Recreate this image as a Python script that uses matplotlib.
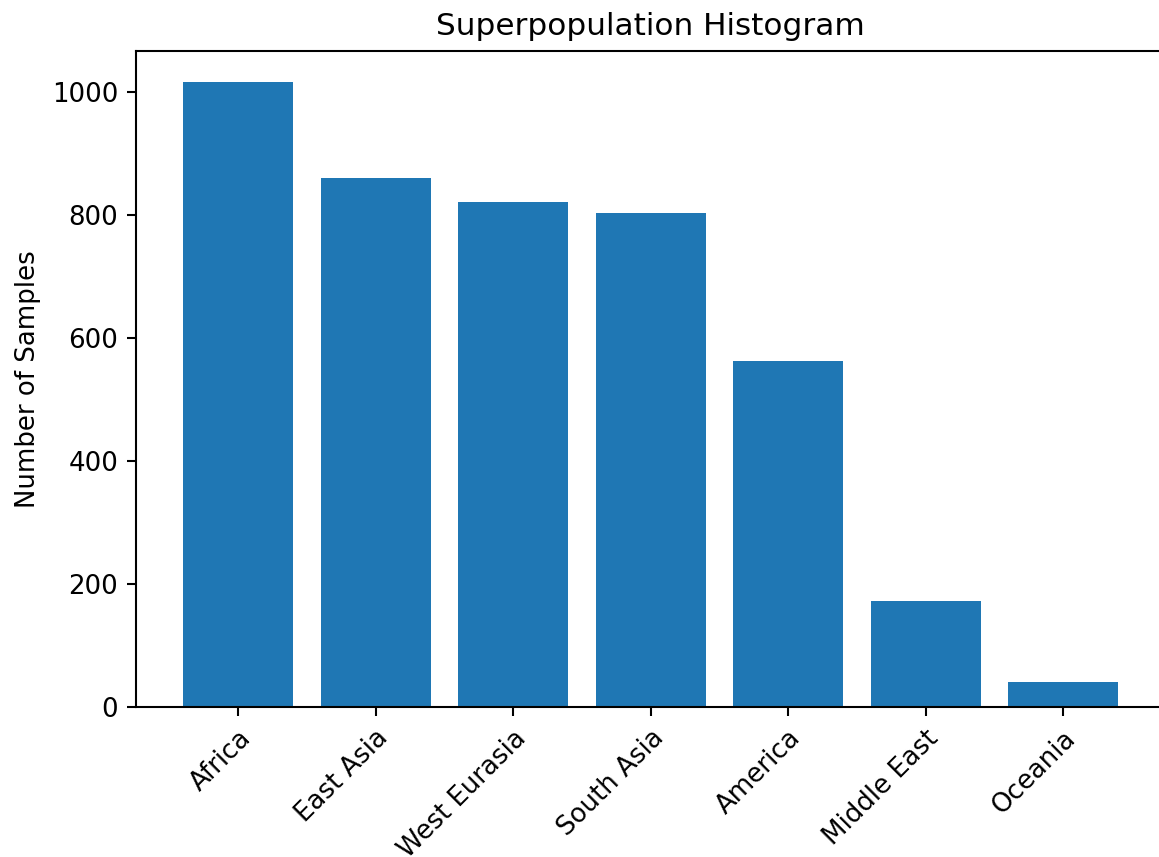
import matplotlib
matplotlib.use("Agg")
import matplotlib.pyplot as plt

# Sample counts per superpopulation
superpops = ["Africa", "East Asia", "West Eurasia", "South Asia",
             "America", "Middle East", "Oceania"]
counts = [1016, 860, 822, 804, 563, 173, 41]

W, H, DPI = 1159, 857, 187
fig = plt.figure(figsize=(W / DPI, H / DPI), dpi=DPI)

# axes in pixel coordinates (extends slightly past the right edge)
left_px, right_px = 136.25, 1164.75
top_px, bottom_px = 51.0, 707.0
ax = fig.add_axes([left_px / W, 1 - bottom_px / H,
                   (right_px - left_px) / W, (bottom_px - top_px) / H])

ax.bar(superpops, counts, color="#1f77b4")
ax.set_title("Superpopulation Histogram")
ax.set_ylabel("Number of Samples")
plt.setp(ax.get_xticklabels(), rotation=45, ha="right", rotation_mode="anchor")

fig.savefig("out.png", dpi=DPI)
